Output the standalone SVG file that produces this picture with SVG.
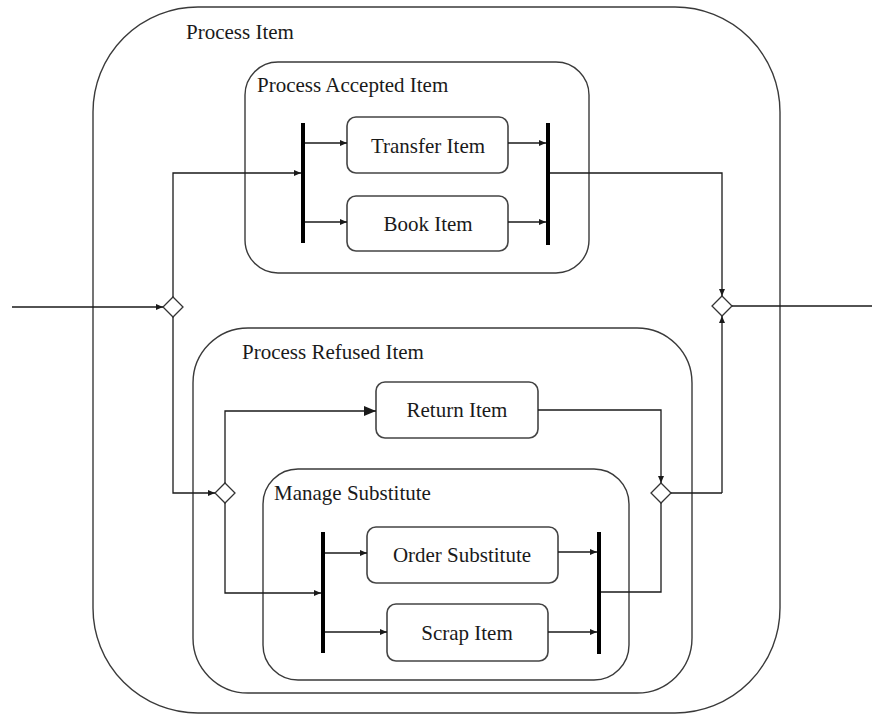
<svg xmlns="http://www.w3.org/2000/svg" width="872" height="714" viewBox="0 0 872 714">
  <style>
    .region { fill: none; stroke: #3a3a3a; stroke-width: 1.4; }
    .action { fill: #ffffff; stroke: #444444; stroke-width: 1.6; }
    .bar { fill: #000000; }
    .decision { fill: #ffffff; stroke: #333333; stroke-width: 1.3; }
    .flow { fill: none; stroke: #1a1a1a; stroke-width: 1.3; }
    .label { font-family: 'Liberation Serif', 'DejaVu Serif', 'Times New Roman', serif; font-size: 21px; fill: #1a1a1a; }
    .center { text-anchor: middle; }
  </style>
  <defs>
    <marker id="tip" markerUnits="userSpaceOnUse" markerWidth="7" markerHeight="6" refX="7" refY="3" orient="auto">
      <path d="M0,0 L7,3 L0,6 z" fill="#1a1a1a"/>
    </marker>
    <marker id="tipLarge" markerUnits="userSpaceOnUse" markerWidth="12" markerHeight="10" refX="12" refY="5" orient="auto">
      <path d="M0,0 L12,5 L0,10 z" fill="#1a1a1a"/>
    </marker>
  </defs>

  <rect width="872" height="714" fill="#ffffff"/>

  <!-- Activity regions -->
  <g id="process-item">
    <rect class="region" x="93" y="7" width="687" height="706" rx="105" ry="105"/>
    <text class="label" x="186" y="39" font-family="Liberation Serif, serif">Process Item</text>
  </g>
  <g id="process-accepted-item">
    <rect class="region" x="245" y="62" width="344" height="211" rx="33" ry="33"/>
    <text class="label" x="257" y="92">Process Accepted Item</text>
  </g>
  <g id="process-refused-item">
    <rect class="region" x="193" y="328" width="499" height="365" rx="55" ry="55"/>
    <text class="label" x="242" y="359">Process Refused Item</text>
  </g>
  <g id="manage-substitute">
    <rect class="region" x="263" y="469" width="366" height="211" rx="35" ry="35"/>
    <text class="label" x="274" y="500">Manage Substitute</text>
  </g>

  <!-- Actions -->
  <g id="transfer-item">
    <rect class="action" x="347" y="117" width="161" height="56" rx="9" ry="9"/>
    <text class="label center" x="428" y="153">Transfer Item</text>
  </g>
  <g id="book-item">
    <rect class="action" x="347" y="196" width="161" height="55" rx="9" ry="9"/>
    <text class="label center" x="428" y="231">Book Item</text>
  </g>
  <g id="return-item">
    <rect class="action" x="376" y="382" width="162" height="56" rx="9" ry="9"/>
    <text class="label center" x="457" y="417">Return Item</text>
  </g>
  <g id="order-substitute">
    <rect class="action" x="367" y="527" width="191" height="56" rx="9" ry="9"/>
    <text class="label center" x="462" y="562">Order Substitute</text>
  </g>
  <g id="scrap-item">
    <rect class="action" x="387" y="604" width="161" height="57" rx="9" ry="9"/>
    <text class="label center" x="467" y="640">Scrap Item</text>
  </g>

  <!-- Fork / join bars -->
  <g id="fork-accepted"><rect class="bar" x="301" y="123" width="4" height="120"/></g>
  <g id="join-accepted"><rect class="bar" x="546" y="123" width="4" height="122"/></g>
  <g id="fork-substitute"><rect class="bar" x="321" y="532" width="4" height="121"/></g>
  <g id="join-substitute"><rect class="bar" x="597" y="532" width="4" height="122"/></g>

  <!-- Decision / merge nodes -->
  <g id="decision-item"><path class="decision" d="M173,297 L183,307 L173,317 L163,307 z"/></g>
  <g id="merge-item"><path class="decision" d="M722,296 L732,306 L722,316 L712,306 z"/></g>
  <g id="decision-refused"><path class="decision" d="M225,483 L235,493 L225,503 L215,493 z"/></g>
  <g id="merge-refused"><path class="decision" d="M661,483 L671,493 L661,503 L651,493 z"/></g>

  <!-- Control flows -->
  <g id="connectors">
    <path class="flow" d="M12,307 H163" marker-end="url(#tip)"/>
    <path class="flow" d="M173,297 V173 H301" marker-end="url(#tip)"/>
    <path class="flow" d="M305,143 H347" marker-end="url(#tip)"/>
    <path class="flow" d="M305,222 H347" marker-end="url(#tip)"/>
    <path class="flow" d="M508,143 H546" marker-end="url(#tip)"/>
    <path class="flow" d="M508,222 H546" marker-end="url(#tip)"/>
    <path class="flow" d="M550,173 H722 V296" marker-end="url(#tip)"/>
    <path class="flow" d="M732,306 H872"/>
    <path class="flow" d="M173,317 V493 H215" marker-end="url(#tip)"/>
    <path class="flow" d="M225,483 V411 H376" marker-end="url(#tipLarge)"/>
    <path class="flow" d="M225,503 V593 H321" marker-end="url(#tip)"/>
    <path class="flow" d="M325,553 H367" marker-end="url(#tip)"/>
    <path class="flow" d="M325,632 H387" marker-end="url(#tip)"/>
    <path class="flow" d="M558,552 H597" marker-end="url(#tip)"/>
    <path class="flow" d="M548,632 H597" marker-end="url(#tip)"/>
    <path class="flow" d="M538,410 H661 V483" marker-end="url(#tip)"/>
    <path class="flow" d="M601,592 H661 V503"/>
    <path class="flow" d="M722,493 H671"/>
    <path class="flow" d="M722,493 V316" marker-end="url(#tip)"/>
  </g>
</svg>
